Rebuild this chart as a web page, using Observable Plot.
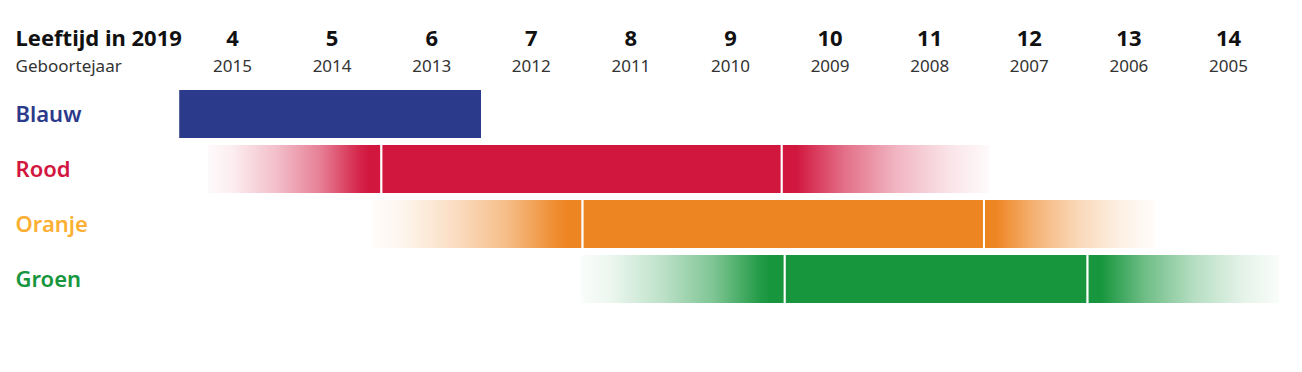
<!DOCTYPE html>
<html>
<head>
<meta charset="utf-8">
<script src="https://cdn.jsdelivr.net/npm/d3@7"></script>
<script src="https://cdn.jsdelivr.net/npm/@observablehq/plot@0.6"></script>
<style>
  html, body { margin: 0; padding: 0; background: #fff; }
  #chart svg { display: block; }
</style>
</head>
<body>
<div id="chart"></div>
<script>
// ---- Data (ages in years) ----
const rows = ["Blauw", "Rood", "Oranje", "Groen"];
const barColors = ["#2b3a8a", "#d2173f", "#ee8523", "#17963d"];
const labelColors = ["#2b3a8a", "#d2173f", "#fbb034", "#17963d"];
const ages = [4, 5, 6, 7, 8, 9, 10, 11, 12, 13, 14];
const years = ["2015", "2014", "2013", "2012", "2011", "2010", "2009", "2008", "2007", "2006", "2005"];
// solid part of each bar
const solidStart = [3.46, 5.5, 7.52, 9.55];
const solidEnd = [6.51, 9.52, 11.55, 12.59];
// faded parts (null = none)
const fadeInStart = [null, 3.75, 5.39, 7.49];
const fadeOutEnd = [null, 11.61, 13.27, 14.52];

// ---- Build segment table ----
const segments = rows.flatMap((row, i) => {
  const out = [];
  if (fadeInStart[i] != null) out.push({row, x1: fadeInStart[i], x2: solidStart[i], fill: `url(#fadein-${i})`});
  out.push({row, x1: solidStart[i], x2: solidEnd[i], fill: barColors[i]});
  if (fadeOutEnd[i] != null) out.push({row, x1: solidEnd[i], x2: fadeOutEnd[i], fill: `url(#fadeout-${i})`});
  return out;
});

const font = "'Noto Sans', 'Open Sans', sans-serif";

const chart = Plot.plot({
  width: 1302,
  height: 372,
  marginTop: 0, marginRight: 0, marginBottom: 0, marginLeft: 0,
  x: {domain: [4, 14], range: [232, 1228], axis: null},
  y: {type: "band", domain: rows, range: [82.5, 309.5], padding: 0.1, axis: null},
  color: {type: "identity"},
  style: {fontFamily: font, background: "#fff", color: "#111"},
  marks: [
    Plot.barX(segments, {x1: "x1", x2: "x2", y: "row", fill: "fill", stroke: "#fff", strokeWidth: 2}),
    Plot.text(rows, {y: d => d, frameAnchor: "left", dx: 15, textAnchor: "start", lineAnchor: "middle",
      fill: (d, i) => labelColors[i], fontSize: 22, fontWeight: 600}),
    Plot.text(ages, {x: d => d, frameAnchor: "top", dy: 45, lineAnchor: "bottom",
      fontSize: 22, fontWeight: 700, fill: "#111"}),
    Plot.text(years, {x: (d, i) => ages[i], frameAnchor: "top", dy: 71, lineAnchor: "bottom",
      fontSize: 17, fill: "#333"}),
    Plot.text(["Leeftijd in 2019"], {frameAnchor: "top-left", dx: 15, dy: 45, lineAnchor: "bottom",
      textAnchor: "start", fontSize: 22, fontWeight: 700, fill: "#111"}),
    Plot.text(["Geboortejaar"], {frameAnchor: "top-left", dx: 15, dy: 71, lineAnchor: "bottom",
      textAnchor: "start", fontSize: 17, fill: "#333"})
  ]
});

// ---- Gradients for faded parts ----
const defs = d3.select(chart).insert("defs", ":first-child");
const inStops = [[0, 0.02], [0.15, 0.08], [0.4, 0.28], [0.65, 0.55], [0.88, 0.95], [0.93, 1], [1, 1]];
const outStops = [[0, 1], [0.07, 1], [0.3, 0.62], [0.55, 0.32], [0.8, 0.12], [1, 0.02]];
barColors.forEach((c, i) => {
  const gi = defs.append("linearGradient").attr("id", `fadein-${i}`).attr("x1", 0).attr("x2", 1).attr("y1", 0).attr("y2", 0);
  inStops.forEach(([o, a]) => gi.append("stop").attr("offset", o).attr("stop-color", c).attr("stop-opacity", a));
  const go = defs.append("linearGradient").attr("id", `fadeout-${i}`).attr("x1", 0).attr("x2", 1).attr("y1", 0).attr("y2", 0);
  outStops.forEach(([o, a]) => go.append("stop").attr("offset", o).attr("stop-color", c).attr("stop-opacity", a));
});

document.getElementById("chart").append(chart);
</script>
</body>
</html>
